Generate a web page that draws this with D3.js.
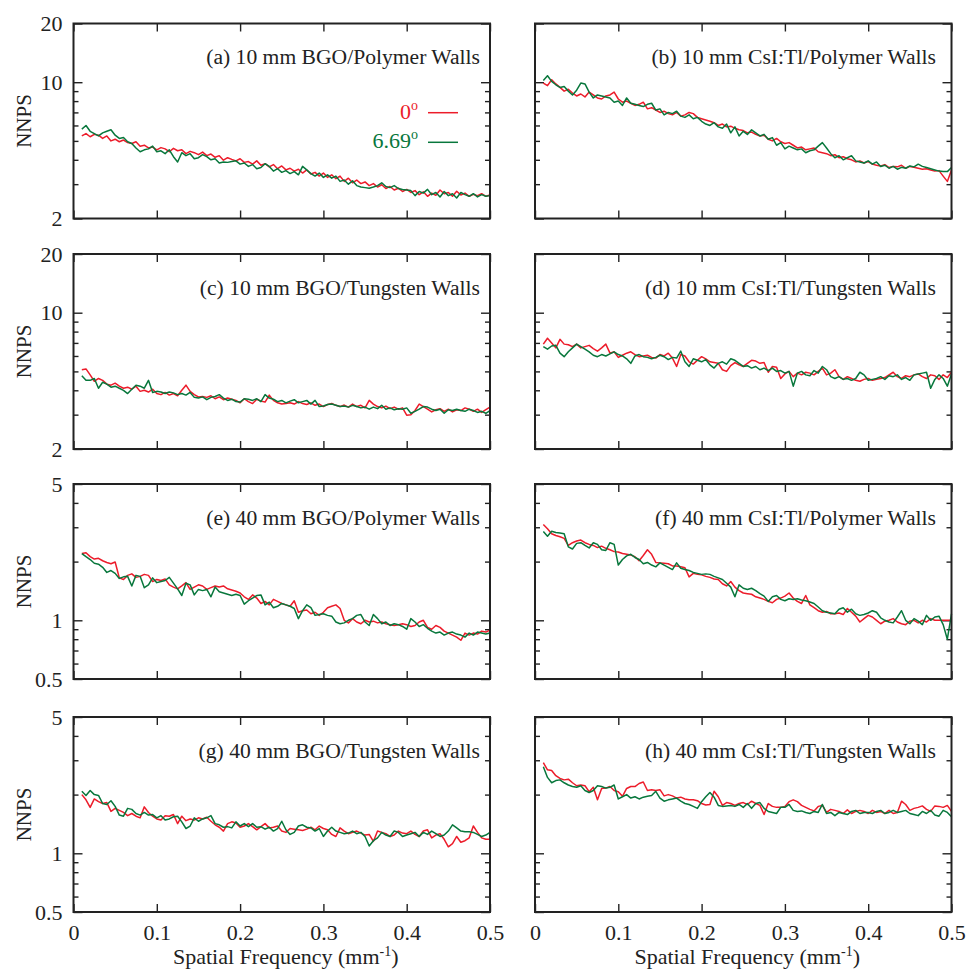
<!DOCTYPE html>
<html>
<head>
<meta charset="utf-8">
<script src="https://cdn.jsdelivr.net/npm/d3@7"></script>
<style>
body { margin: 0; background: #fff; }
text { font-family: "Liberation Serif", "Times New Roman", serif; fill: #222; }
</style>
</head>
<body>
<script>
// frequency bins, mm^-1
var freq = d3.range(99).map(function(i){ return +(0.01 + 0.005 * i).toFixed(3) })

var xTicks = [0, 0.1, 0.2, 0.3, 0.4, 0.5]
var yMajorTop = [2, 10, 20]
var yMinorTop = [3, 4, 5, 6, 7, 8, 9]
var yMajorBottom = [0.5, 1, 5]
var yMinorBottom = [0.6, 0.7, 0.8, 0.9, 2, 3, 4]

var titles = ["(a) 10 mm BGO/Polymer Walls", "(b) 10 mm CsI:Tl/Polymer Walls",
  "(c) 10 mm BGO/Tungsten Walls", "(d) 10 mm CsI:Tl/Tungsten Walls",
  "(e) 40 mm BGO/Polymer Walls", "(f) 40 mm CsI:Tl/Polymer Walls",
  "(g) 40 mm BGO/Tungsten Walls", "(h) 40 mm CsI:Tl/Tungsten Walls"]
var angles = ["0", "6.69"]

var nnpsA0 = [5.3,5.45,5.25,5.4,5.35,5.15,5.3,5.0,5.1,4.95, 5.05,4.9,4.85,4.95,4.7,4.75,4.6,4.65,4.5,4.62,
  4.55,4.4,4.58,4.45,4.5,4.3,4.42,4.35,4.25,4.38, 4.2,4.28,4.12,4.2,3.98,4.1,4.02,3.95,4.05,3.88,
  3.92,3.8,3.95,3.75,3.82,3.68,3.78,3.6,3.72,3.55, 3.62,3.5,3.58,3.42,3.55,3.38,3.45,3.3,3.42,3.25,
  3.35,3.2,3.3,3.1,3.22,3.05,3.15,3.02,3.08,2.95, 3.02,2.9,2.98,2.85,2.92,2.8,2.86,2.75,2.82,2.72,
  2.78,2.65,2.74,2.6,2.7,2.63,2.8,2.68,2.72,2.6, 2.76,2.64,2.7,2.6,2.66,2.62,2.68,2.6,2.64]
var nnpsA669 = [5.75,6.0,5.6,5.45,5.3,5.5,5.6,5.7,5.35,5.15, 5.2,4.95,4.85,4.6,4.4,4.5,4.55,4.7,4.4,4.45,
  4.3,4.5,4.15,3.9,4.35,4.2,4.3,4.05,4.1,4.25, 4.15,4.0,4.05,3.85,3.9,3.88,3.92,3.95,3.8,3.85,
  3.7,3.78,3.6,3.65,3.82,3.7,3.5,3.6,3.45,3.52, 3.4,3.48,3.35,3.7,3.55,3.4,3.3,3.42,3.25,3.35,
  3.22,3.3,3.1,3.15,3.0,3.12,2.95,2.9,2.88,2.86, 2.9,2.95,3.05,2.92,2.88,2.95,2.85,2.82,2.8,2.78,
  2.62,2.75,2.7,2.82,2.65,2.72,2.58,2.75,2.62,2.68, 2.55,2.72,2.65,2.6,2.68,2.58,2.65,2.6,2.62]

var nnpsB0 = [9.9,9.6,10.3,9.8,9.4,9.0,9.2,8.8,8.5,8.7, 8.4,8.9,8.6,8.3,8.2,8.5,8.6,8.9,8.2,7.9,
  8.0,7.8,7.6,7.7,7.9,7.3,7.4,7.2,7.0,7.1, 6.9,6.8,7.0,6.7,6.8,7.0,6.9,6.6,6.5,6.4,
  6.3,6.2,6.0,6.1,5.9,5.95,5.8,5.7,5.65,5.5, 5.55,5.4,5.3,5.35,5.1,5.0,5.15,4.95,4.85,4.9,
  4.75,4.6,4.65,4.5,4.55,4.6,4.4,4.35,4.3,4.2, 4.25,4.1,4.15,4.05,4.0,3.9,3.95,3.85,3.92,3.8,
  3.75,3.72,3.78,3.65,3.7,3.68,3.75,3.62,3.7,3.66, 3.62,3.58,3.6,3.55,3.5,3.52,3.3,3.1,3.55]
var nnpsB669 = [10.2,10.8,10.1,9.7,9.4,9.5,9.0,8.6,9.1,9.9, 9.8,8.9,8.3,8.6,8.5,8.4,8.3,7.9,8.0,7.6,
  8.3,7.8,7.7,7.6,7.5,7.7,7.8,7.2,7.3,6.8, 7.0,6.9,7.1,6.7,6.6,6.8,6.5,6.6,6.3,6.1,
  6.0,6.2,5.9,5.8,6.1,5.5,5.9,5.3,5.6,5.4, 5.7,5.5,5.3,5.4,5.1,5.2,4.75,4.9,4.55,4.7,
  4.6,4.5,4.55,4.35,4.45,4.5,4.7,4.9,4.6,4.3, 4.1,4.2,4.0,4.1,4.2,3.95,3.9,3.85,3.95,3.8,
  3.9,3.7,3.75,3.62,3.7,3.58,3.66,3.62,3.72,3.68, 3.8,3.7,3.65,3.6,3.55,3.5,3.48,3.48,3.65]

var nnpsC0 = [5.1,5.15,4.8,4.45,4.6,4.5,4.3,4.25,4.35,4.2, 4.1,4.15,4.05,4.2,3.95,4.0,3.92,4.05,3.85,3.8,
  3.9,3.78,3.85,3.75,4.0,4.25,3.95,3.8,3.7,3.72, 3.68,3.75,3.62,3.7,3.58,3.65,3.6,3.55,3.45,3.62,
  3.5,3.42,3.6,3.52,3.48,3.78,3.55,3.45,3.4,3.42, 3.45,3.4,3.5,3.42,3.38,3.45,3.35,3.4,3.3,3.38,
  3.42,3.35,3.3,3.36,3.28,3.4,3.3,3.35,3.25,3.55, 3.4,3.3,3.25,3.32,3.22,3.28,3.2,3.25,2.98,3.0,
  3.15,3.4,3.3,3.2,3.1,3.18,3.22,3.12,3.2,3.1, 3.18,3.15,3.25,3.2,3.12,3.2,3.08,3.18,3.28]
var nnpsC669 = [4.75,4.5,4.5,4.6,4.1,4.4,4.3,4.15,4.2,4.1, 4.0,3.85,4.05,4.25,4.2,4.1,4.5,3.9,3.95,3.92,
  3.85,3.92,3.88,3.8,3.85,3.78,3.9,3.68,3.65,3.7, 3.58,3.68,3.72,3.8,3.65,3.55,3.6,3.5,3.48,3.62,
  3.6,3.55,3.62,3.5,3.8,3.65,3.6,3.5,3.55,3.45, 3.52,3.58,3.45,3.5,3.55,3.4,3.55,3.3,3.32,3.38,
  3.4,3.35,3.3,3.32,3.28,3.35,3.3,3.25,3.28,3.2, 3.28,3.22,3.35,3.2,3.25,3.18,3.22,3.2,3.25,3.05,
  3.12,3.2,3.3,3.28,3.2,3.15,3.2,3.05,3.18,3.15, 3.2,3.15,3.12,3.2,3.15,3.08,3.12,3.05,3.15]

var nnpsD0 = [6.9,7.4,7.0,6.6,7.3,6.9,6.85,6.7,6.9,6.6, 6.7,6.8,6.55,6.35,6.6,6.9,6.2,6.3,5.9,6.05,
  6.2,6.3,6.1,5.95,6.0,6.05,5.9,5.85,6.1,6.0, 6.2,5.85,5.3,6.1,6.0,5.6,5.45,5.7,5.95,5.8,
  5.6,5.55,5.5,5.1,5.0,5.35,5.55,5.4,5.3,5.5, 5.7,5.65,5.5,5.55,4.95,5.3,5.25,4.6,4.85,5.0,
  4.7,4.9,4.8,4.95,4.9,4.8,5.0,5.2,4.8,4.9, 5.1,4.7,4.55,4.7,4.6,4.5,4.45,4.55,4.6,4.5,
  4.55,4.6,4.65,4.8,4.95,4.7,4.6,4.75,4.7,4.8, 4.85,4.7,4.6,4.8,4.75,4.55,4.8,4.65,4.95]
var nnpsD669 = [6.7,6.5,6.75,6.8,6.2,5.95,6.3,6.6,6.9,6.7, 6.5,6.3,6.05,5.95,6.1,6.0,6.15,6.3,6.1,6.0,
  5.8,5.5,6.0,6.1,5.95,5.9,5.8,5.9,6.05,5.95, 5.75,5.9,5.85,6.35,5.6,5.3,5.8,5.7,5.6,5.75,
  5.4,5.2,5.5,5.6,5.45,5.8,5.7,5.5,5.3,5.35, 5.2,5.3,5.1,5.2,5.05,5.2,5.0,5.05,4.9,5.0,
  4.2,4.9,5.0,4.8,4.75,5.05,4.9,5.3,5.1,4.7, 4.6,4.7,4.55,4.6,4.5,4.6,4.95,4.8,4.5,4.55,
  4.6,4.7,4.55,4.75,4.7,4.8,4.55,4.65,4.5,4.8, 4.85,4.9,4.95,4.1,4.55,4.8,4.6,4.2,4.85]

var nnpsE0 = [2.2,2.22,2.12,2.06,2.08,2.02,1.98,1.95,1.99,1.65, 1.62,1.7,1.73,1.66,1.68,1.72,1.7,1.58,1.62,1.6,
  1.63,1.52,1.48,1.45,1.5,1.56,1.44,1.48,1.52,1.5, 1.44,1.47,1.5,1.48,1.5,1.45,1.43,1.41,1.38,1.32,
  1.28,1.35,1.3,1.22,1.25,1.2,1.28,1.25,1.22,1.2, 1.18,1.26,1.1,1.12,1.13,1.08,1.1,1.06,1.1,1.16,
  1.18,1.2,1.15,1.0,0.97,1.02,0.98,0.96,1.0,0.98, 0.99,0.97,0.98,0.96,0.95,0.94,0.95,0.96,0.95,0.93,
  0.94,0.98,1.0,0.92,0.9,0.94,0.92,0.88,0.86,0.84, 0.82,0.79,0.86,0.84,0.86,0.85,0.88,0.87,0.89]
var nnpsE669 = [2.2,2.12,2.05,1.96,1.94,1.87,1.76,1.8,1.74,1.64, 1.67,1.68,1.5,1.7,1.68,1.47,1.52,1.65,1.56,1.58,
  1.6,1.66,1.55,1.45,1.34,1.55,1.52,1.35,1.44,1.42, 1.44,1.32,1.48,1.4,1.38,1.36,1.34,1.36,1.34,1.21,
  1.26,1.3,1.34,1.35,1.2,1.24,1.16,1.18,1.22,1.2, 1.18,1.15,1.02,1.12,1.2,1.16,1.06,1.07,1.08,1.06,
  1.05,0.98,0.96,0.97,1.0,1.02,1.06,1.07,0.98,0.94, 1.07,1.02,0.96,0.98,0.94,0.96,0.95,0.93,0.9,1.02,
  0.98,0.93,0.95,0.91,0.88,0.86,0.87,0.84,0.86,0.87, 0.85,0.84,0.82,0.86,0.84,0.87,0.86,0.85,0.86]

var nnpsF0 = [3.1,2.95,2.78,2.72,2.68,2.63,2.42,2.5,2.55,2.58, 2.5,2.45,2.42,2.36,2.4,2.34,2.3,2.25,2.24,2.2,
  2.18,2.16,2.12,2.02,2.15,2.3,2.18,1.98,1.97,1.96, 1.95,1.9,1.9,1.88,1.86,1.67,1.74,1.72,1.71,1.68,
  1.66,1.63,1.62,1.54,1.5,1.58,1.48,1.42,1.38,1.37, 1.36,1.32,1.3,1.28,1.25,1.23,1.28,1.3,1.33,1.38,
  1.3,1.25,1.22,1.34,1.2,1.16,1.12,1.1,1.11,1.08, 1.08,1.09,1.07,1.15,1.1,1.05,0.98,1.02,1.06,1.04,
  1.0,0.96,0.99,1.0,1.02,0.98,0.96,0.95,0.99,1.0, 0.97,1.0,0.98,1.02,1.0,1.0,1.0,1.0,1.0]
var nnpsF669 = [2.85,2.7,2.86,2.82,2.8,2.78,2.38,2.32,2.48,2.5, 2.42,2.35,2.5,2.45,2.3,2.28,2.5,2.45,1.92,2.05,
  2.14,2.18,2.1,2.05,1.95,1.98,1.92,1.88,1.97,1.92, 1.87,1.82,1.97,1.85,1.82,1.8,1.76,1.74,1.72,1.73,
  1.72,1.68,1.65,1.62,1.55,1.48,1.32,1.52,1.46,1.44, 1.46,1.42,1.37,1.33,1.25,1.32,1.34,1.28,1.26,1.29,
  1.28,1.29,1.27,1.26,1.24,1.22,1.17,1.12,1.1,1.09, 1.08,1.14,1.16,1.1,1.14,1.08,1.06,1.07,1.09,1.12,
  1.1,1.03,1.0,0.98,0.97,1.04,1.12,1.0,0.96,1.02, 0.99,0.95,1.06,1.0,1.04,1.05,0.95,0.8,1.08]

var nnpsG0 = [2.0,1.88,1.72,1.9,1.84,1.8,1.82,1.64,1.7,1.66, 1.62,1.56,1.6,1.55,1.52,1.73,1.62,1.55,1.5,1.48,
  1.56,1.55,1.58,1.42,1.55,1.47,1.5,1.48,1.52,1.5, 1.53,1.46,1.4,1.36,1.3,1.42,1.45,1.43,1.36,1.38,
  1.42,1.37,1.32,1.37,1.42,1.35,1.36,1.38,1.3,1.28, 1.34,1.33,1.32,1.31,1.33,1.36,1.32,1.38,1.34,1.32,
  1.25,1.22,1.35,1.3,1.26,1.28,1.3,1.27,1.24,1.25, 1.15,1.3,1.28,1.26,1.22,1.24,1.3,1.27,1.26,1.3,
  1.25,1.22,1.3,1.32,1.2,1.24,1.26,1.18,1.08,1.12, 1.22,1.14,1.16,1.2,1.38,1.28,1.2,1.18,1.18]
var nnpsG669 = [2.08,1.98,2.1,2.0,1.98,1.8,1.78,1.86,1.74,1.57, 1.55,1.7,1.68,1.6,1.57,1.62,1.57,1.58,1.52,1.56,
  1.48,1.5,1.54,1.55,1.45,1.34,1.38,1.52,1.46,1.5, 1.52,1.56,1.42,1.4,1.36,1.37,1.35,1.45,1.38,1.42,
  1.37,1.42,1.36,1.37,1.33,1.36,1.3,1.34,1.46,1.32, 1.25,1.28,1.38,1.4,1.36,1.35,1.3,1.34,1.22,1.3,
  1.36,1.3,1.28,1.26,1.27,1.3,1.26,1.28,1.22,1.09, 1.16,1.2,1.28,1.24,1.22,1.3,1.28,1.22,1.24,1.26,
  1.28,1.22,1.28,1.25,1.3,1.26,1.22,1.24,1.3,1.4, 1.35,1.3,1.29,1.29,1.28,1.25,1.22,1.24,1.28]

var nnpsH0 = [2.92,2.68,2.66,2.5,2.42,2.38,2.4,2.3,2.22,2.24, 2.22,2.07,2.18,1.88,2.15,2.16,2.2,2.1,2.07,1.96,
  2.15,2.2,2.2,2.28,2.32,2.1,2.12,2.1,2.12,1.97, 2.0,1.97,1.92,1.94,1.9,1.88,1.88,1.86,1.8,1.77,
  1.78,2.08,1.95,1.76,1.82,1.8,1.76,1.8,1.82,1.78, 1.85,1.8,1.76,1.58,1.8,1.74,1.72,1.72,1.74,1.84,
  1.88,1.84,1.76,1.72,1.68,1.65,1.74,1.76,1.62,1.68, 1.66,1.64,1.6,1.67,1.6,1.64,1.66,1.64,1.6,1.66,
  1.62,1.64,1.6,1.66,1.6,1.62,1.85,1.78,1.66,1.7, 1.72,1.75,1.68,1.64,1.75,1.74,1.72,1.76,1.64]
var nnpsH669 = [2.78,2.45,2.3,2.36,2.38,2.3,2.24,2.2,2.18,2.22, 2.1,2.05,2.1,2.22,2.2,2.16,2.18,2.24,1.9,1.95,
  2.0,1.92,1.95,1.9,1.94,1.96,1.98,2.08,1.92,1.85, 1.88,1.9,1.92,1.85,1.8,1.78,1.74,1.7,1.84,1.95,
  2.05,1.94,1.76,1.74,1.75,1.76,1.74,1.78,1.72,1.8, 1.7,1.8,1.82,1.7,1.64,1.62,1.6,1.72,1.72,1.78,
  1.66,1.64,1.65,1.62,1.6,1.64,1.62,1.78,1.6,1.62, 1.56,1.62,1.6,1.58,1.64,1.66,1.6,1.62,1.62,1.6,
  1.64,1.66,1.6,1.62,1.66,1.62,1.64,1.66,1.6,1.58, 1.56,1.64,1.6,1.66,1.57,1.55,1.66,1.62,1.54]

var series0 = [nnpsA0, nnpsB0, nnpsC0, nnpsD0, nnpsE0, nnpsF0, nnpsG0, nnpsH0]
var series669 = [nnpsA669, nnpsB669, nnpsC669, nnpsD669, nnpsE669, nnpsF669, nnpsG669, nnpsH669]
var colors = ["#ec1c2a", "#08773c"]

var width = 967, height = 972
var colX = [73.5, 535], pw = 416.5
var rowY = [23.5, 254, 484, 717], ph = 195
var titleRight = [480, 936]
var fs = 22

var svg = d3.select("body").append("svg")
    .attr("width", width)
    .attr("height", height)

titles.forEach(function(title, k){
    var col = k % 2, row = Math.floor(k / 2)
    var top = row < 2
    var x = d3.scaleLinear().domain([0, 0.5]).range([colX[col], colX[col] + pw])
    var y = d3.scaleLog().domain(top ? [2, 20] : [0.5, 5]).range([rowY[row] + ph, rowY[row]])
    var major = top ? yMajorTop : yMajorBottom
    var minor = top ? yMinorTop : yMinorBottom
    var g = svg.append("g")

    function tidy(sel){
        sel.select(".domain").remove()
        sel.selectAll("line").attr("stroke", "#222").attr("stroke-width", 1.4)
        sel.selectAll("text").attr("font-size", fs).attr("fill", "#222")
            .attr("font-family", "Liberation Serif, Times New Roman, serif")
    }

    // x ticks, bottom and top
    g.append("g").attr("transform", "translate(0," + (rowY[row] + ph) + ")")
        .call(d3.axisBottom(x).tickValues(xTicks).tickSize(-8).tickPadding(12)
            .tickFormat(row === 3 ? d3.format("") : function(){ return "" }))
        .call(tidy)
    g.append("g").attr("transform", "translate(0," + rowY[row] + ")")
        .call(d3.axisTop(x).tickValues(xTicks).tickSize(-8).tickFormat(""))
        .call(tidy)

    // y ticks left and right
    g.append("g").attr("transform", "translate(" + colX[col] + ",0)")
        .call(d3.axisLeft(y).tickValues(major).tickSize(-9).tickPadding(11)
            .tickFormat(col === 0 ? d3.format("") : function(){ return "" }))
        .call(tidy)
    g.append("g").attr("transform", "translate(" + colX[col] + ",0)")
        .call(d3.axisLeft(y).tickValues(minor).tickSize(-5).tickFormat(""))
        .call(tidy)
    g.append("g").attr("transform", "translate(" + (colX[col] + pw) + ",0)")
        .call(d3.axisRight(y).tickValues(major).tickSize(-9).tickFormat(""))
        .call(tidy)
    g.append("g").attr("transform", "translate(" + (colX[col] + pw) + ",0)")
        .call(d3.axisRight(y).tickValues(minor).tickSize(-5).tickFormat(""))
        .call(tidy)

    var line = d3.line()
        .x(function(d){ return x(d[0]) })
        .y(function(d){ return y(d[1]) })

    ;[series0[k], series669[k]].forEach(function(vals, s){
        g.append("path")
            .datum(freq.map(function(f, i){ return [f, vals[i]] }))
            .attr("d", line)
            .attr("fill", "none")
            .attr("stroke", colors[s])
            .attr("stroke-width", 1.5)
            .attr("stroke-linejoin", "round")
    })

    g.append("rect")
        .attr("x", colX[col]).attr("y", rowY[row])
        .attr("width", pw).attr("height", ph)
        .attr("fill", "none").attr("stroke", "#222").attr("stroke-width", 2)

    g.append("text")
        .attr("x", titleRight[col]).attr("y", rowY[row] + 40.5)
        .attr("text-anchor", "end").attr("font-size", 21.6)
        .text(title)

    if (col === 0) {
        g.append("text")
            .attr("transform", "translate(31," + (rowY[row] + ph / 2) + ") rotate(-90)")
            .attr("text-anchor", "middle").attr("font-size", 21)
            .text("NNPS")
    }

    if (row === 3) {
        var lab = g.append("text")
            .attr("x", colX[col] + pw / 2 + 4).attr("y", 964)
            .attr("text-anchor", "middle").attr("font-size", fs)
        lab.append("tspan").text("Spatial Frequency (mm")
        lab.append("tspan").attr("font-size", 14).attr("dy", -8).text("-1")
        lab.append("tspan").attr("dy", 8).text(")")
    }

    // legend only in first panel
    if (k === 0) {
        angles.forEach(function(a, s){
            var ly = 112.7 + s * 29.6
            var t = g.append("text")
                .attr("x", 418).attr("y", ly + 6)
                .attr("text-anchor", "end").attr("font-size", fs)
                .style("fill", colors[s])
            t.append("tspan").text(a)
            t.append("tspan").attr("font-size", 14).attr("dy", -9).text("o")
            g.append("line")
                .attr("x1", 428).attr("x2", 458)
                .attr("y1", ly).attr("y2", ly)
                .attr("stroke", colors[s]).attr("stroke-width", 1.5)
        })
    }
})
</script>
</body>
</html>
